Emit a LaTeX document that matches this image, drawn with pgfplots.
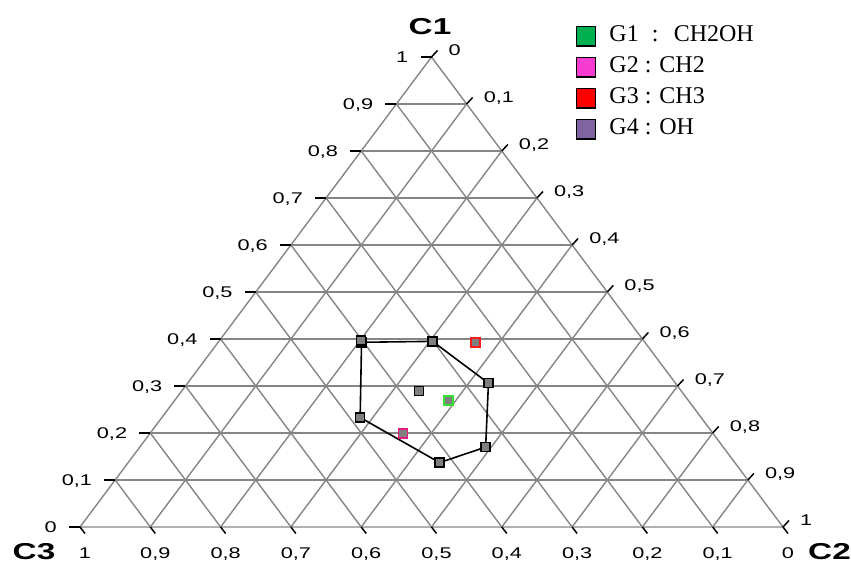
\documentclass[border=0pt]{standalone}
\usepackage{pgfplots}
\pgfplotsset{compat=1.18}
\usepackage{pgfplotstable}
\usepackage{fontspec}
\setmainfont{Liberation Serif}
\newfontfamily\arial{Liberation Sans}
\usepackage{graphicx}

\definecolor{gridgray}{HTML}{858585}
\definecolor{gOne}{HTML}{00B050}
\definecolor{gTwo}{HTML}{F53BD0}
\definecolor{gThree}{HTML}{FF0000}
\definecolor{gFour}{HTML}{8064A2}
\definecolor{mk}{HTML}{7F7F7F}
\definecolor{bGreen}{HTML}{33E033}
\definecolor{bPink}{HTML}{E8197F}
\definecolor{bRed}{HTML}{FF1A1A}

\newcommand{\tl}[1]{\scalebox{1.4}[1]{\arial\fontsize{15.5}{15.5}\selectfont #1}}
\newcommand{\axl}[1]{\scalebox{1.45}[1]{\arial\bfseries\fontsize{23}{23}\selectfont #1}}
\newcommand{\lbl}[1]{\ifnum#1=0 0\else\ifnum#1=10 1\else 0,#1\fi\fi}

% ternary data: c1 (top), c2 (right), c3 (left)
\pgfplotstableread{
c1 c2 c3
0.393 0.204 0.403
0.395 0.304 0.301
0.306 0.428 0.266
0.170 0.492 0.338
0.137 0.443 0.420
0.233 0.282 0.485
0.393 0.204 0.403
}\hull
\pgfplotstableread{
c1 c2 c3
0.397 0.201 0.402
0.289 0.338 0.373
}\inner
\pgfplotstableread{
c1 c2 c3
0.269 0.390 0.341
}\gone
\pgfplotstableread{
c1 c2 c3
0.199 0.360 0.441
}\gtwo
\pgfplotstableread{
c1 c2 c3
0.393 0.366 0.241
}\gthree

\begin{document}
\begin{tikzpicture}
\useasboundingbox (-80pt,-38pt) rectangle (771pt,527pt);
\begin{scope}[x=703pt,y=470pt]
  \foreach \k in {1,...,9}{
    \pgfmathsetmacro\t{\k/10}
    \draw[gridgray, line width=1.4pt] ({0.5*\t},\t) -- ({1-0.5*\t},\t);
    \draw[gridgray, line width=1.4pt] (\t,0) -- ({0.5+0.5*\t},{1-\t});
    \draw[gridgray, line width=1.4pt] ({1-\t},0) -- ({0.5-0.5*\t},{1-\t});
  }
  \draw[gridgray, line width=1.4pt] (0,0) -- (1,0) -- (0.5,1) -- cycle;
  \foreach \k in {0,...,10}{
    \pgfmathsetmacro\t{\k/10}
    \draw[black, line width=1.5pt] ({0.5*\t},\t) -- ++(-11pt,0pt);
    \draw[black, line width=1.5pt] ({0.5+0.5*\t},{1-\t}) -- ++(6pt,6.5pt);
    \draw[black, line width=1.5pt] ({1-\t},0) -- ++(5pt,-6.5pt);
    \path ({0.5*\t},\t) ++(-23pt,-5.5pt) node[anchor=base east, inner sep=0pt]{\tl{\lbl{\k}}};
    \path ({0.5+0.5*\t},{1-\t}) ++(17pt,1.5pt) node[anchor=base west, inner sep=0pt]{\tl{\lbl{\k}}};
    \path ({1-\t},0) ++(5pt,-31.8pt) node[anchor=base, inner sep=0pt]{\tl{\lbl{\k}}};
  }
\end{scope}
\node[inner sep=0pt] at (350pt,500.5pt) {\axl{C1}};
\node[inner sep=0pt] at (-46pt,-25pt) {\axl{C3}};
\node[inner sep=0pt] at (749.5pt,-25pt) {\axl{C2}};

\begin{axis}[
  at={(0pt,0pt)}, anchor=south west,
  scale only axis, width=703pt, height=470pt,
  xmin=0, xmax=1, ymin=0, ymax=1,
  hide axis, clip=false,
  legend image code/.code={\draw[#1, draw=black, line width=1.3pt] (0pt,-10pt) rectangle (19.5pt,9.5pt);},
  legend style={at={(axis description cs:0.705,1.069)}, anchor=north west,
    draw=none, fill=none, inner sep=0pt, outer sep=0pt,
    font=\fontsize{24}{28}\selectfont, row sep=8pt,
    nodes={inner sep=0pt, text height=17pt, text depth=6pt},
    /tikz/every odd column/.append style={column sep=13pt}},
  legend cell align=left,
]
\addplot[black, line width=1.6pt, mark=square*, mark size=4.5pt,
  mark options={fill=mk, draw=black, line width=1.5pt, solid}, forget plot]
  table[x expr=\thisrow{c2}+0.5*\thisrow{c1}, y=c1]{\hull};
\addplot[only marks, mark=square*, mark size=4.5pt,
  mark options={fill=mk, draw=black, line width=1.5pt}, forget plot]
  table[x expr=\thisrow{c2}+0.5*\thisrow{c1}, y=c1]{\inner};
\addplot[only marks, mark=square*, mark size=4.5pt,
  mark options={fill=mk, draw=bGreen, line width=1.5pt}, forget plot]
  table[x expr=\thisrow{c2}+0.5*\thisrow{c1}, y=c1]{\gone};
\addplot[only marks, mark=square*, mark size=4.5pt,
  mark options={fill=mk, draw=bPink, line width=1.5pt}, forget plot]
  table[x expr=\thisrow{c2}+0.5*\thisrow{c1}, y=c1]{\gtwo};
\addplot[only marks, mark=square*, mark size=4.5pt,
  mark options={fill=mk, draw=bRed, line width=1.5pt}, forget plot]
  table[x expr=\thisrow{c2}+0.5*\thisrow{c1}, y=c1]{\gthree};
\addlegendimage{fill=gOne}
\addlegendentry{G1\hspace{0.3em} :\hspace{0.3em} CH2OH}
\addlegendimage{fill=gTwo}
\addlegendentry{G2 : CH2}
\addlegendimage{fill=gThree}
\addlegendentry{G3 : CH3}
\addlegendimage{fill=gFour}
\addlegendentry{G4 : OH}
\end{axis}
\end{tikzpicture}
\end{document}
